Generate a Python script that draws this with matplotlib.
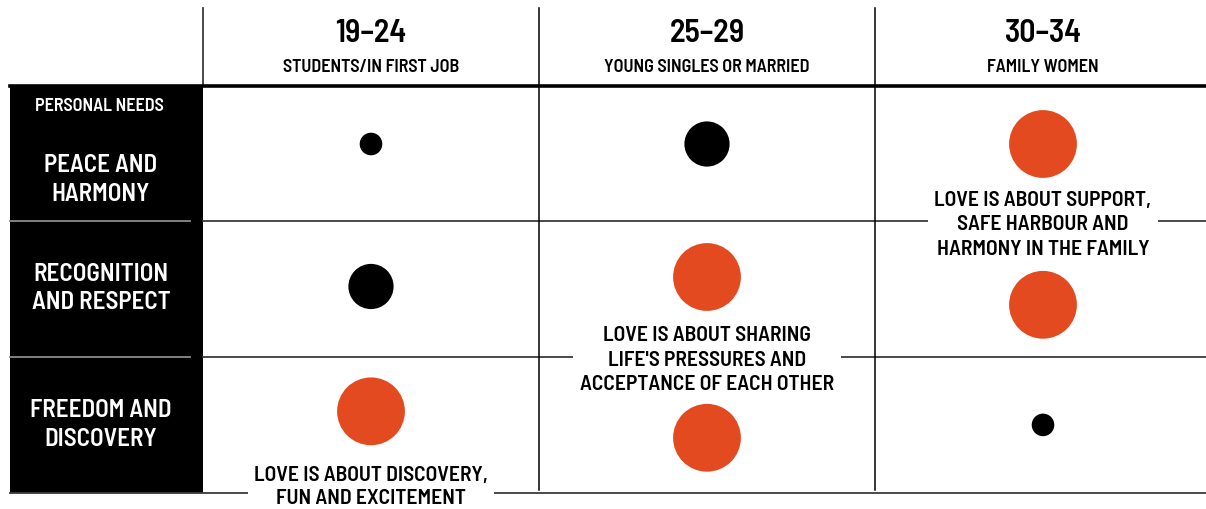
"""
Love across life stages: personal needs by age group (dot matrix card).
Output: out.png (1206x509)
"""

import matplotlib.pyplot as plt

# ---------------------------------------------------------------- data
ages = ['19–24', '25–29', '30–34']
segments = ['STUDENTS/IN FIRST JOB', 'YOUNG SINGLES OR MARRIED', 'FAMILY WOMEN']
needs = ['PEACE AND\nHARMONY', 'RECOGNITION\nAND RESPECT', 'FREEDOM AND\nDISCOVERY']
# importance of each need (rows) for each age group (columns): 1 low .. 3 high
importance = [
    [1, 2, 3],
    [2, 3, 3],
    [3, 3, 1],
]
love_labels = [
    'LOVE IS ABOUT DISCOVERY,\nFUN AND EXCITEMENT',
    "LOVE IS ABOUT SHARING\nLIFE'S PRESSURES AND\nACCEPTANCE OF EACH OTHER",
    'LOVE IS ABOUT SUPPORT,\nSAFE HARBOUR AND\nHARMONY IN THE FAMILY',
]

# ---------------------------------------------------------------- layout / style
ORANGE, INK, GRID, SOFT = '#E44A1F', '#000000', '#3A3A3A', '#8A8A8A'
FONT = ['Barlow Semi Condensed', 'Barlow Condensed', 'Roboto Condensed',
        'Oswald', 'DejaVu Sans']
plt.rcParams['font.family'] = FONT

# pixel geometry of the card -> data units (1 column / 1 row)
X0, CW = 371.0, 336.0      # centre of first column, column width (px)
Y0, RH = 153.5, 135.7      # centre of first row, row height (px)


def px2x(px):
    return (px - X0) / CW


def px2y(py):
    return (py - Y0) / RH


# vertical nudges of the dots inside their cells (rows x cols, in row units)
nudge = [
    [-0.07, -0.07, -0.07],
    [-0.02, -0.09, 0.115],
    [-0.10, 0.095, 0.0],
]
label_y = [px2y(487), px2y(360), px2y(225)]
label_ls = [1.25, 1.35, 1.35]

fig = plt.figure(figsize=(12.06, 5.09), dpi=100)
ax = fig.add_axes([0, 0, 1, 1])
ax.set_xlim(px2x(0), px2x(1206))
ax.set_ylim(px2y(509), px2y(0))
ax.axis('off')

left, right = px2x(10), px2x(1206)
top = px2y(8)

# black row-header column
ax.add_patch(plt.Rectangle((left, -0.5), -0.5 - left, 3.0, facecolor=INK,
                           edgecolor='none', zorder=1))
for yy in (0.5, 1.5):
    ax.plot([left, px2x(190)], [yy, yy], color=SOFT, lw=1.3, zorder=2)

# grid
ax.plot([left, right], [-0.5, -0.5], color=INK, lw=2.6, zorder=3)
for yy in (0.5, 1.5):
    ax.plot([-0.5, right], [yy, yy], color=GRID, lw=1.3, zorder=2)
ax.plot([left, right], [2.5, 2.5], color=GRID, lw=1.3, zorder=2)
ax.plot([-0.5, -0.5], [top, -0.5], color=GRID, lw=1.3, zorder=2)
for xx in (0.5, 1.5):
    ax.plot([xx, xx], [top, px2y(490)], color=INK, lw=1.1, zorder=2)

# column headers
for j, (age, seg) in enumerate(zip(ages, segments)):
    ax.text(j, px2y(34), age, ha='center', va='center', fontsize=23,
            fontweight='semibold', color=INK)
    ax.text(j, px2y(67.5), seg, ha='center', va='center', fontsize=13,
            fontweight='semibold', color=INK)

# row headers
ax.text(px2x(99), px2y(106.5), 'PERSONAL NEEDS', ha='center', va='center',
        fontsize=13, fontweight='semibold', color='white')
for i, need in enumerate(needs):
    yc = [px2y(180), px2y(288.5), px2y(425)][i]
    ax.text(px2x(101), yc, need, ha='center', va='center', fontsize=18,
            fontweight='semibold', color='white', linespacing=1.3)

# dots
for i in range(len(needs)):
    for j in range(len(ages)):
        lvl = importance[i][j]
        r_px = 11.3 * lvl
        ax.scatter(j, i + nudge[i][j], s=(2 * r_px * 72 / 100) ** 2,
                   color=ORANGE if lvl == 3 else INK, edgecolors='none',
                   zorder=4)

# "love is about" callouts, knocked out of the grid lines
for j, lab in enumerate(love_labels):
    ax.text(j, label_y[j], lab, ha='center', va='center', fontsize=15.5,
            fontweight='semibold', color=INK, linespacing=label_ls[j],
            zorder=5, bbox=dict(boxstyle='square,pad=0.3', facecolor='white',
                                edgecolor='none'))

fig.savefig('out.png', dpi=100, facecolor='white')
